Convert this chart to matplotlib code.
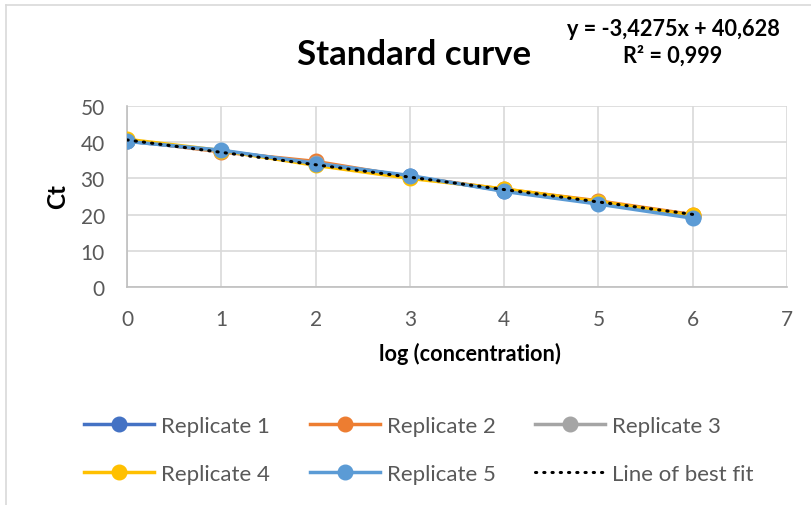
import numpy as np
import matplotlib
matplotlib.use("Agg")
from matplotlib import pyplot as plt
from matplotlib.lines import Line2D

plt.rcParams['font.family'] = ['Lato', 'DejaVu Sans']

# data
log_conc = [0, 1, 2, 3, 4, 5, 6]
rep1 = [40.3, 37.6, 34.2, 30.6, 26.6, 23.2, 19.3]
rep2 = [40.6, 37.3, 34.7, 30.4, 27.0, 23.8, 20.0]
rep3 = [40.4, 37.5, 34.3, 30.5, 26.8, 23.4, 19.6]
rep4 = [40.8, 37.7, 33.6, 30.0, 27.1, 23.6, 19.8]
rep5 = [40.2, 37.8, 34.1, 30.8, 26.4, 22.9, 19.0]
slope = -3.4275
intercept = 40.628
r2 = "0,999"

series = [
    ("Replicate 1", rep1, "#4472C4"),
    ("Replicate 2", rep2, "#ED7D31"),
    ("Replicate 3", rep3, "#A5A5A5"),
    ("Replicate 4", rep4, "#FFC000"),
    ("Replicate 5", rep5, "#5B9BD5"),
]

W, H = 811, 506
fig = plt.figure(figsize=(W / 100, H / 100), dpi=100)
ax = fig.add_axes([127 / W, 1 - 288 / H, (787 - 127) / W, (288 - 107) / H])

for name, vals, col in series:
    ax.plot(log_conc, vals, color=col, lw=2.5, marker="o", markersize=10.5,
            label=name, zorder=3)

fx = np.array([log_conc[0], log_conc[-1]])
ax.plot(fx, slope * fx + intercept, color="black", lw=2.2, linestyle=(0, (0.4, 2.3)),
        dash_capstyle="round", label="Line of best fit", zorder=4)

ax.set_xlim(0, 7)
ax.set_ylim(0, 50)
ax.set_xticks(range(0, 8))
ax.set_yticks(range(0, 51, 10))
ax.grid(True, color="#D9D9D9", lw=1.2)
ax.set_axisbelow(True)
for s in ["top", "right"]:
    ax.spines[s].set_visible(False)
for s in ["left", "bottom"]:
    ax.spines[s].set_color("#BFBFBF")
    ax.spines[s].set_linewidth(1.2)
ax.tick_params(axis="y", length=0, labelsize=15, colors="#595959", pad=16)
ax.tick_params(axis="x", length=0, labelsize=15, colors="#595959", pad=16)

fig.text(470 / W, 1 - 354 / H, "log (concentration)", fontsize=15.6, fontweight="bold",
         ha="center", va="center")
fig.text(58 / W, 1 - 197 / H, "Ct", fontsize=17.5, fontweight="bold", rotation=90,
         ha="center", va="center")

fig.text(414 / W, 1 - 55 / H, "Standard curve", fontsize=25, fontweight="bold",
         ha="center", va="center")
fig.text(673 / W, 1 - 30 / H, f"y = {slope:.4f}x + {intercept:.3f}".replace(".", ","),
         fontsize=15.6, fontweight="bold", ha="center", va="center")
fig.text(673 / W, 1 - 56 / H, f"R² = {r2}", fontsize=15.6, fontweight="bold",
         ha="center", va="center")

# legend filled row by row like Excel
handles, labels = ax.get_legend_handles_labels()
order = [0, 3, 1, 4, 2, 5]
leg = fig.legend([handles[i] for i in order], [labels[i] for i in order], ncol=3,
                 loc="center", bbox_to_anchor=(419 / W, 1 - 451 / H),
                 frameon=False, fontsize=16, handlelength=3.15, columnspacing=1.8,
                 labelspacing=1.25, handletextpad=0.3)
for t in leg.get_texts():
    t.set_color("#595959")

# chart border (only top and left edges fall inside the picture)
fig.add_artist(Line2D([6 / W, 1], [1 - 6 / H, 1 - 6 / H], transform=fig.transFigure,
                      color="#D9D9D9", lw=1.2))
fig.add_artist(Line2D([6 / W, 6 / W], [0, 1 - 6 / H], transform=fig.transFigure,
                      color="#D9D9D9", lw=1.2))

fig.savefig("out.png", dpi=100)
